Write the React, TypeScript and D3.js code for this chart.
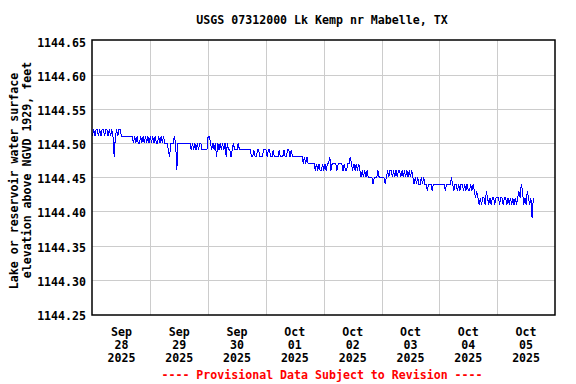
import React from "react";
import * as d3 from "d3";

// Gage height (ft, NGVD 1929), 30-minute values, one array per day starting at 00:00
const sep28 = [
  1144.51, 1144.52, 1144.51, 1144.52, 1144.52, 1144.51, 1144.52, 1144.51, 1144.52, 1144.52, 1144.51, 1144.52,
  1144.52, 1144.51, 1144.52, 1144.51, 1144.52, 1144.51, 1144.48, 1144.51, 1144.52, 1144.51, 1144.52, 1144.52,
  1144.51, 1144.51, 1144.51, 1144.51, 1144.51, 1144.51, 1144.51, 1144.51, 1144.51, 1144.51, 1144.50, 1144.51,
  1144.50, 1144.51, 1144.50, 1144.50, 1144.51, 1144.50, 1144.51, 1144.50, 1144.51, 1144.50, 1144.51, 1144.50,
];
const sep29 = [
  1144.51, 1144.50, 1144.51, 1144.50, 1144.51, 1144.50, 1144.50, 1144.51, 1144.50, 1144.51, 1144.50, 1144.51,
  1144.50, 1144.50, 1144.50, 1144.49, 1144.48, 1144.50, 1144.50, 1144.50, 1144.51, 1144.50, 1144.46, 1144.50,
  1144.50, 1144.50, 1144.50, 1144.50, 1144.50, 1144.50, 1144.50, 1144.50, 1144.50, 1144.50, 1144.49, 1144.50,
  1144.49, 1144.50, 1144.49, 1144.50, 1144.49, 1144.50, 1144.50, 1144.49, 1144.49, 1144.49, 1144.49, 1144.49,
];
const sep30 = [
  1144.51, 1144.51, 1144.50, 1144.49, 1144.50, 1144.49, 1144.50, 1144.48, 1144.50, 1144.49, 1144.50, 1144.49,
  1144.50, 1144.49, 1144.50, 1144.48, 1144.50, 1144.49, 1144.49, 1144.48, 1144.49, 1144.50, 1144.49, 1144.49,
  1144.49, 1144.50, 1144.49, 1144.49, 1144.49, 1144.49, 1144.49, 1144.49, 1144.49, 1144.49, 1144.49, 1144.49,
  1144.48, 1144.48, 1144.49, 1144.48, 1144.48, 1144.49, 1144.49, 1144.48, 1144.48, 1144.48, 1144.49, 1144.49,
];
const oct01 = [
  1144.49, 1144.48, 1144.49, 1144.49, 1144.48, 1144.48, 1144.49, 1144.48, 1144.48, 1144.48, 1144.48, 1144.49,
  1144.48, 1144.48, 1144.48, 1144.49, 1144.48, 1144.48, 1144.49, 1144.49, 1144.48, 1144.49, 1144.48, 1144.48,
  1144.48, 1144.48, 1144.48, 1144.48, 1144.48, 1144.48, 1144.48, 1144.47, 1144.48, 1144.47, 1144.48, 1144.47,
  1144.47, 1144.47, 1144.47, 1144.47, 1144.47, 1144.46, 1144.47, 1144.46, 1144.47, 1144.46, 1144.46, 1144.47,
];
const oct02 = [
  1144.46, 1144.47, 1144.46, 1144.47, 1144.47, 1144.48, 1144.46, 1144.47, 1144.47, 1144.47, 1144.47, 1144.46,
  1144.47, 1144.47, 1144.47, 1144.47, 1144.46, 1144.47, 1144.46, 1144.46, 1144.47, 1144.47, 1144.48, 1144.47,
  1144.46, 1144.47, 1144.46, 1144.47, 1144.46, 1144.47, 1144.46, 1144.45, 1144.46, 1144.45, 1144.46, 1144.45,
  1144.46, 1144.45, 1144.45, 1144.45, 1144.45, 1144.44, 1144.45, 1144.45, 1144.45, 1144.46, 1144.45, 1144.45,
];
const oct03 = [
  1144.45, 1144.45, 1144.45, 1144.44, 1144.45, 1144.46, 1144.45, 1144.46, 1144.46, 1144.45, 1144.46, 1144.45,
  1144.46, 1144.45, 1144.46, 1144.46, 1144.45, 1144.46, 1144.45, 1144.46, 1144.45, 1144.46, 1144.45, 1144.46,
  1144.45, 1144.46, 1144.45, 1144.44, 1144.45, 1144.44, 1144.45, 1144.44, 1144.44, 1144.45, 1144.44, 1144.45,
  1144.44, 1144.44, 1144.43, 1144.44, 1144.44, 1144.44, 1144.43, 1144.44, 1144.44, 1144.44, 1144.44, 1144.44,
];
const oct04 = [
  1144.44, 1144.44, 1144.44, 1144.44, 1144.44, 1144.43, 1144.44, 1144.44, 1144.44, 1144.44, 1144.45, 1144.44,
  1144.43, 1144.44, 1144.44, 1144.43, 1144.44, 1144.43, 1144.44, 1144.44, 1144.43, 1144.44, 1144.43, 1144.44,
  1144.43, 1144.43, 1144.44, 1144.43, 1144.44, 1144.43, 1144.42, 1144.43, 1144.42, 1144.41, 1144.42, 1144.41,
  1144.42, 1144.42, 1144.41, 1144.43, 1144.42, 1144.41, 1144.42, 1144.41, 1144.42, 1144.42, 1144.41, 1144.42,
];
const oct05 = [
  1144.42, 1144.42, 1144.41, 1144.42, 1144.42, 1144.41, 1144.42, 1144.42, 1144.41, 1144.42, 1144.41, 1144.42,
  1144.41, 1144.42, 1144.41, 1144.42, 1144.41, 1144.42, 1144.43, 1144.42, 1144.44, 1144.43, 1144.41, 1144.42,
  1144.41, 1144.43, 1144.42, 1144.41, 1144.42, 1144.39, 1144.42,
];
const dailySeries = [sep28, sep29, sep30, oct01, oct02, oct03, oct04, oct05];

const dayMonths = ["Sep", "Sep", "Sep", "Oct", "Oct", "Oct", "Oct", "Oct"];
const dayNumbers = ["28", "29", "30", "01", "02", "03", "04", "05"];
const dayYears = ["2025", "2025", "2025", "2025", "2025", "2025", "2025", "2025"];
const yTicks = [1144.25, 1144.3, 1144.35, 1144.4, 1144.45, 1144.5, 1144.55, 1144.6, 1144.65];

const title = "USGS 07312000 Lk Kemp nr Mabelle, TX";
const yTitle1 = "Lake or reservoir water surface";
const yTitle2 = "elevation above NGVD 1929, feet";
const footer = "---- Provisional Data Subject to Revision ----";

const W = 576;
const H = 384;
const L = 92;
const R = 555;
const T = 40;
const B = 315;
const FONT = "'DejaVu Sans Mono', 'Liberation Mono', monospace";
const FS = 11.6;

export default function App() {
  const start = Date.UTC(2025, 8, 28);
  const end = Date.UTC(2025, 9, 6);
  const x = d3.scaleUtc().domain([new Date(start), new Date(end)]).range([L + 0.5, R]);
  const y = d3.scaleLinear().domain([1144.25, 1144.65]).range([314, 40.6]);

  const points: { t: Date; v: number }[] = [];
  dailySeries.forEach((arr, d) => {
    arr.forEach((v, i) => {
      points.push({ t: new Date(Date.UTC(2025, 8, 28 + d, 0, 30 * i)), v });
    });
  });
  const line = d3
    .line<{ t: Date; v: number }>()
    .x((p) => x(p.t))
    .y((p) => y(p.v));

  const dayStarts = d3.utcDay.range(new Date(start), new Date(end));
  const midnights = dayStarts.slice(1);
  const noons = dayStarts.map((d) => d3.utcHour.offset(d, 12));
  const snap = (v: number) => Math.round(v) + 0.5;

  return (
    <svg
      width={W}
      height={H}
      style={{ position: "absolute", left: 0, top: 0, background: "#fff" }}
      fontFamily={FONT}
      fontWeight="bold"
      fontSize={FS}
    >
      <rect x={0} y={0} width={W} height={H} fill="#fff" />
      <text x={322} y={24} textAnchor="middle" fill="#000">
        {title}
      </text>
      <g stroke="#cccccc" strokeWidth={1} shapeRendering="crispEdges">
        {yTicks.slice(1, -1).map((v) => (
          <line key={v} x1={L} x2={R} y1={snap(y(v))} y2={snap(y(v))} />
        ))}
        {midnights.map((d) => (
          <line key={+d} x1={snap(x(d))} x2={snap(x(d))} y1={T} y2={B} />
        ))}
      </g>
      <path
        d={line(points) || ""}
        fill="none"
        stroke="#0000ff"
        strokeWidth={1}
        shapeRendering="crispEdges"
      />
      <rect
        x={L}
        y={T}
        width={R - L}
        height={B - T}
        fill="none"
        stroke="#000"
        strokeWidth={1.5}
      />
      <g fill="#000" textAnchor="end">
        {yTicks.map((v) => (
          <text key={v} x={86} y={y(v) + 6}>
            {d3.format(".2f")(v)}
          </text>
        ))}
      </g>
      <g fill="#000" textAnchor="middle">
        {noons.map((d, i) => (
          <g key={+d}>
            <text x={x(d)} y={336}>
              {dayMonths[i]}
            </text>
            <text x={x(d)} y={349}>
              {dayNumbers[i]}
            </text>
            <text x={x(d)} y={362}>
              {dayYears[i]}
            </text>
          </g>
        ))}
      </g>
      <g fill="#000" textAnchor="middle">
        <text transform={`translate(18,181) rotate(-90)`}>{yTitle1}</text>
        <text transform={`translate(31,170) rotate(-90)`}>{yTitle2}</text>
      </g>
      <text x={322} y={379} textAnchor="middle" fill="#ff0000">
        {footer}
      </text>
    </svg>
  );
}
